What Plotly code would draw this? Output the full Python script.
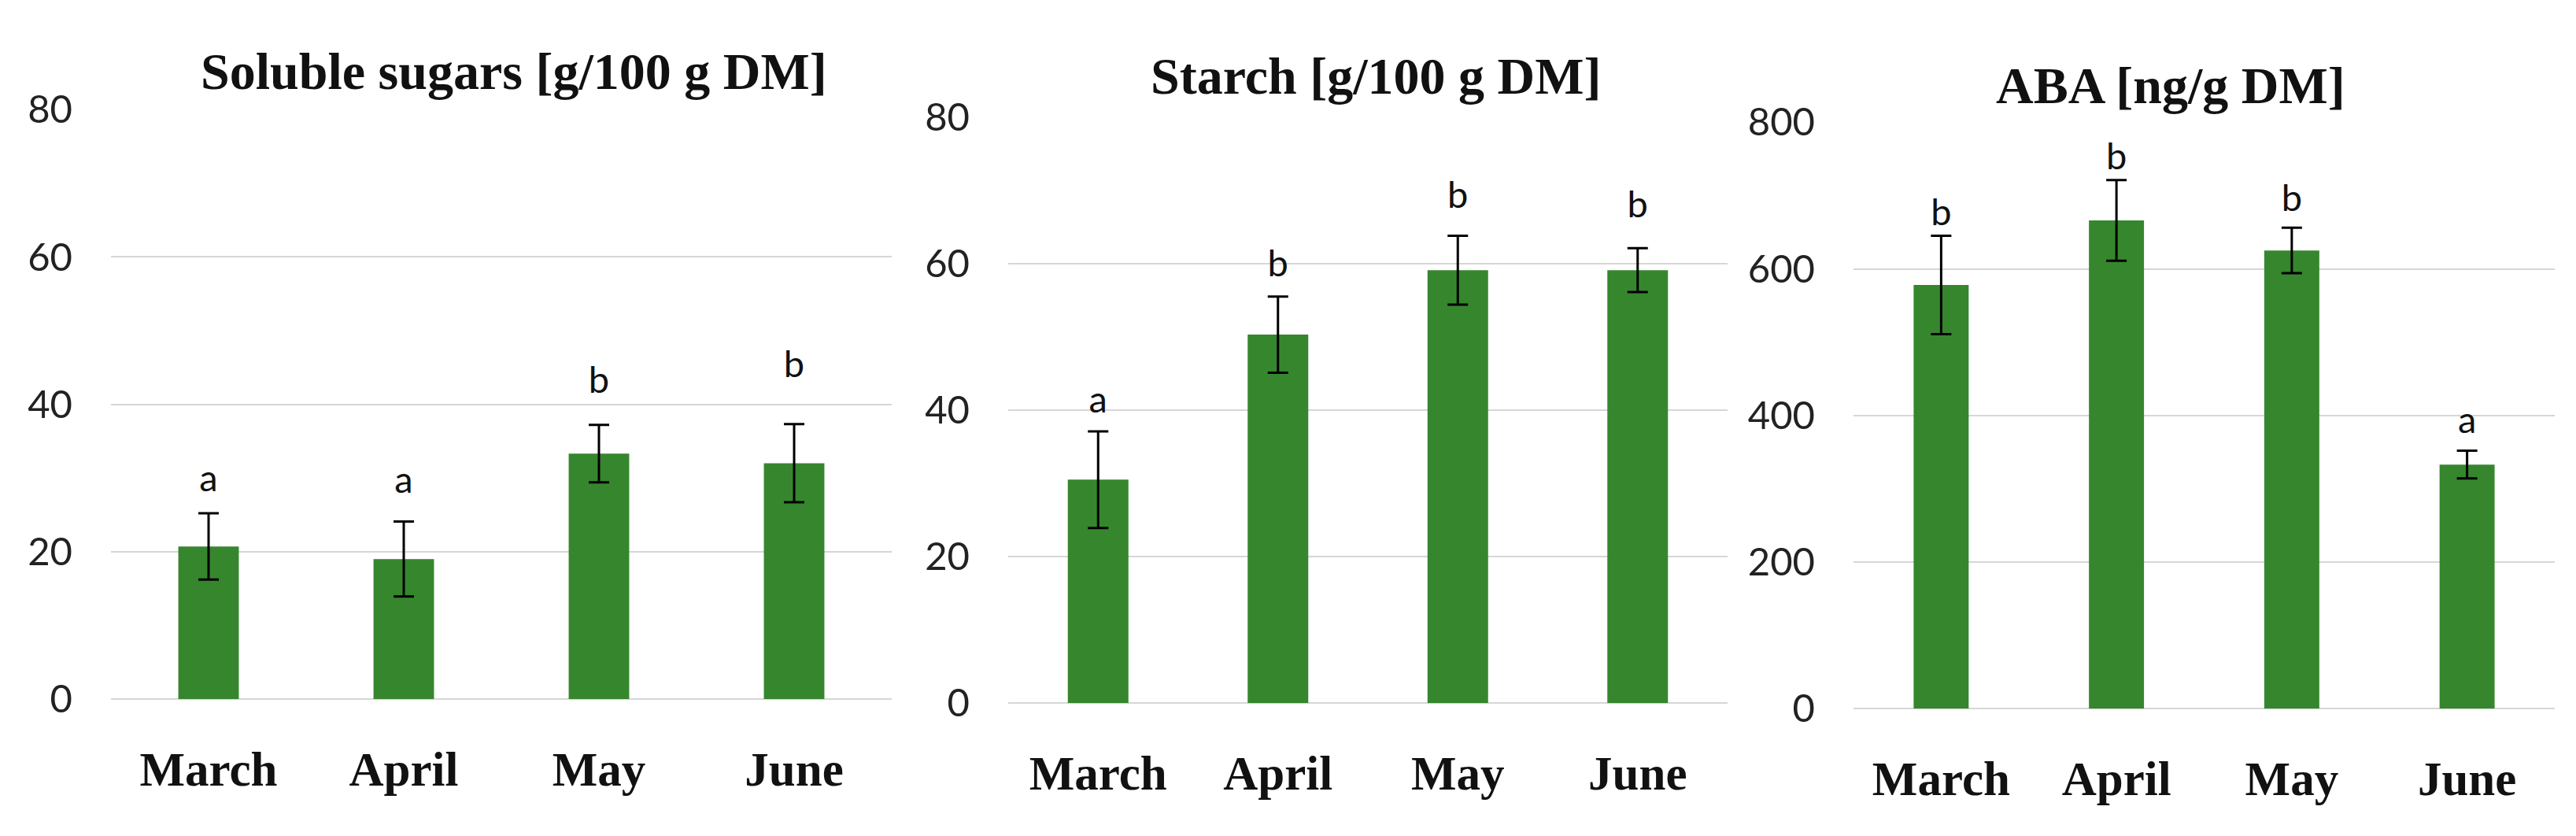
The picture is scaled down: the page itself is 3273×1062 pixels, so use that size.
import plotly.graph_objects as go

W, H = 3273, 1062

months = ["March", "April", "May", "June"]

sugar_vals = [20.7, 19.0, 33.3, 32.0]
sugar_err = [4.5, 5.1, 3.9, 5.3]
sugar_letters = ["a", "a", "b", "b"]
sugar_letter_y = [29.5, 29.2, 42.8, 44.9]

starch_vals = [30.5, 50.3, 59.1, 59.1]
starch_err = [6.6, 5.2, 4.7, 3.0]
starch_letters = ["a", "b", "b", "b"]
starch_letter_y = [40.9, 59.5, 68.9, 67.6]

aba_vals = [578, 666, 625, 333]
aba_err = [67, 55, 31, 19]
aba_letters = ["b", "b", "b", "a"]
aba_letter_y = [672, 748, 692, 389]

titles = ["Soluble sugars [g/100 g DM]", "Starch [g/100 g DM]", "ABA [ng/g DM]"]
y_ranges = [[0, 80], [0, 80], [0, 800]]
y_dticks = [20, 20, 200]

BAR = "#36862e"
GRID = "#d6d6d6"
TICK_FONT = dict(family="Lato, Carlito, sans-serif", size=49, color="#222222")
CAT_FONT = dict(family="Liberation Serif, serif", size=61, color="#111111", weight="bold")
TITLE_FONT = dict(family="Liberation Serif, serif", size=66, color="#111111")

# pixel boxes of the three plot areas: (left, right, top, bottom)
boxes = [(133, 1125, 106, 898), (1273, 2187, 116, 903.5), (2347, 3238, 123, 911)]
bar_widths = [0.31, 0.337, 0.314]
title_pos = [(645, 54), (1740, 61), (2750, 73)]

panels = [
    (sugar_vals, sugar_err, sugar_letters, sugar_letter_y),
    (starch_vals, starch_err, starch_letters, starch_letter_y),
    (aba_vals, aba_err, aba_letters, aba_letter_y),
]

fig = go.Figure()
layout = dict(
    width=W, height=H, autosize=False,
    margin=dict(l=0, r=0, t=0, b=0),
    paper_bgcolor="white", plot_bgcolor="white",
    showlegend=False, annotations=[],
)

for i, (vals, err, letters, ly) in enumerate(panels):
    n = "" if i == 0 else str(i + 1)
    xa, ya = "x" + n, "y" + n
    fig.add_trace(go.Bar(
        x=months, y=vals, xaxis=xa, yaxis=ya,
        marker=dict(color=BAR, line=dict(width=0)),
        width=bar_widths[i],
        error_y=dict(type="data", array=err, visible=True, color="black",
                     thickness=3, width=13),
        hoverinfo="skip",
    ))
    fig.add_trace(go.Scatter(
        x=months, y=ly, xaxis=xa, yaxis=ya, mode="text", text=letters,
        textposition="middle center",
        textfont=dict(family="Lato, Carlito, sans-serif", size=47, color="#111111"),
        hoverinfo="skip",
    ))
    l, r, t, b = boxes[i]
    layout["xaxis" + n] = dict(
        domain=[l / W, r / W], anchor=ya, type="category",
        range=[-0.5, 3.5], showgrid=False, showline=False, zeroline=False,
        ticks="", tickfont=CAT_FONT, ticklabelstandoff=48,
    )
    layout["yaxis" + n] = dict(
        domain=[1 - b / H, 1 - t / H], anchor=xa,
        range=y_ranges[i], dtick=y_dticks[i], tick0=0,
        showgrid=True, gridcolor=GRID, gridwidth=2,
        zeroline=True, zerolinecolor=GRID, zerolinewidth=2,
        showline=False, ticks="", tickfont=TICK_FONT, ticklabelstandoff=48,
    )
    tx, ty = title_pos[i]
    layout["annotations"].append(dict(
        text="<b>" + titles[i] + "</b>", xref="paper", yref="paper",
        x=tx / W, y=1 - ty / H, xanchor="center", yanchor="middle",
        showarrow=False, font=TITLE_FONT,
    ))

fig.update_layout(**layout)
fig.write_html("out.html")
